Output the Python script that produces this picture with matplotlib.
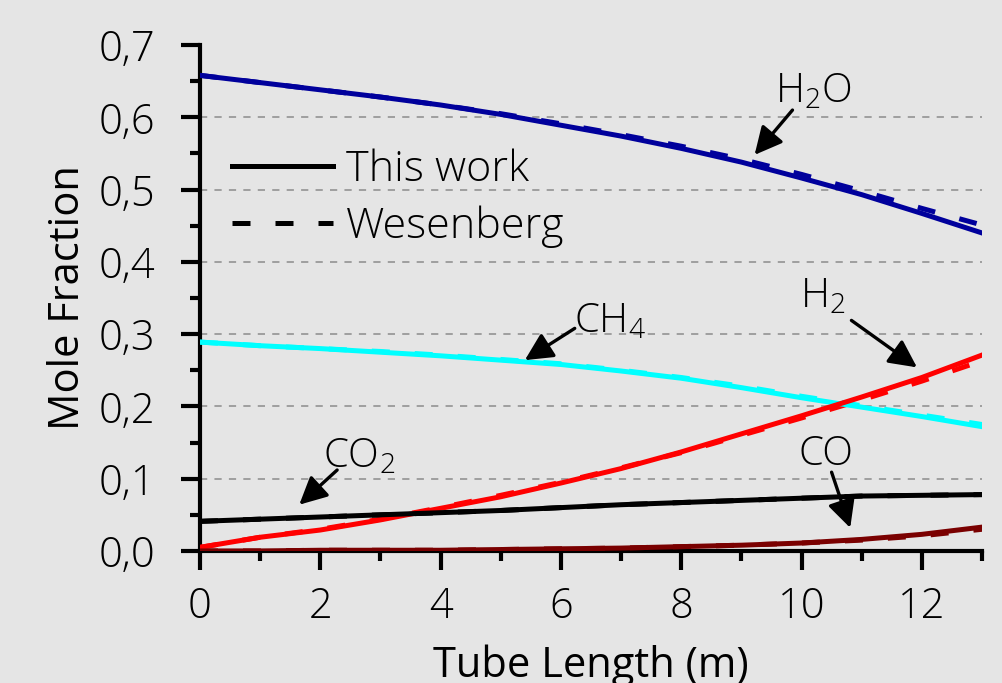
import matplotlib
matplotlib.use("Agg")
import matplotlib.pyplot as plt
from matplotlib.ticker import FuncFormatter, MultipleLocator
import numpy as np

plt.rcParams['font.family'] = ['Open Sans', 'DejaVu Sans']
plt.rcParams['font.weight'] = 'light'
plt.rcParams['mathtext.fontset'] = 'custom'
plt.rcParams['mathtext.rm'] = 'Open Sans:light'
plt.rcParams['mathtext.it'] = 'Open Sans:light'

# tube length (m)
length = [0, 1, 2, 3, 4, 5, 6, 7, 8, 9, 10, 11, 12, 13]

# this work (solid)
h2o = [0.658, 0.648, 0.638, 0.628, 0.617, 0.604, 0.589, 0.574, 0.557, 0.538, 0.516, 0.493, 0.467, 0.440]
ch4 = [0.289, 0.284, 0.280, 0.275, 0.270, 0.264, 0.258, 0.249, 0.239, 0.226, 0.212, 0.199, 0.186, 0.172]
h2 = [0.005, 0.019, 0.029, 0.043, 0.059, 0.075, 0.094, 0.114, 0.137, 0.162, 0.187, 0.213, 0.240, 0.271]
co2 = [0.041, 0.044, 0.047, 0.050, 0.053, 0.056, 0.060, 0.064, 0.067, 0.070, 0.073, 0.076, 0.077, 0.078]
co = [0.000, 0.000, 0.001, 0.001, 0.001, 0.002, 0.003, 0.004, 0.006, 0.008, 0.011, 0.016, 0.023, 0.033]

# Wesenberg (dashed)
h2o_w = [0.658, 0.648, 0.638, 0.628, 0.617, 0.605, 0.591, 0.576, 0.560, 0.542, 0.521, 0.498, 0.474, 0.451]
ch4_w = [0.289, 0.284, 0.280, 0.276, 0.271, 0.265, 0.259, 0.250, 0.240, 0.228, 0.214, 0.201, 0.188, 0.175]
h2_w = [0.005, 0.019, 0.030, 0.044, 0.060, 0.077, 0.095, 0.115, 0.136, 0.160, 0.184, 0.209, 0.235, 0.263]
co2_w = [0.041, 0.044, 0.047, 0.050, 0.053, 0.056, 0.060, 0.064, 0.067, 0.070, 0.073, 0.076, 0.077, 0.078]
co_w = [0.000, 0.000, 0.001, 0.001, 0.001, 0.002, 0.003, 0.004, 0.006, 0.008, 0.011, 0.015, 0.021, 0.030]

bg = '#e5e5e5'
dash = (3.6, 5.0)
fig = plt.figure(figsize=(10.02, 6.83), dpi=100, facecolor=bg)
ax = fig.add_axes([0.1996, 0.1933, 0.7804, 0.7408])
ax.set_facecolor(bg)

for yv in [0.1, 0.2, 0.3, 0.4, 0.5, 0.6]:
    ax.axhline(yv, color='#999999', lw=1.3, ls=(0, (4, 4)), zorder=1)

series = [(h2o, h2o_w, '#00009c'), (ch4, ch4_w, '#00ffff'), (h2, h2_w, '#ff0000'),
          (co2, co2_w, '#000000'), (co, co_w, '#7a0000')]
for sol, das, c in series:
    ax.plot(length, das, color=c, lw=3.6, dashes=dash, zorder=3)
    ax.plot(length, sol, color=c, lw=3.6, zorder=4)

ax.set_xlim(0, 13)
ax.set_ylim(0, 0.7)
ax.xaxis.set_major_locator(MultipleLocator(2))
ax.xaxis.set_minor_locator(MultipleLocator(1))
ax.yaxis.set_major_locator(MultipleLocator(0.1))
ax.yaxis.set_minor_locator(MultipleLocator(0.05))
ax.yaxis.set_major_formatter(FuncFormatter(lambda v, p: ('%.1f' % v).replace('.', ',')))

for s in ['top', 'right']:
    ax.spines[s].set_visible(False)
for s in ['left', 'bottom']:
    ax.spines[s].set_linewidth(3)
ax.tick_params(which='major', length=14, width=3, labelsize=30)
ax.tick_params(axis='x', which='major', pad=11)
ax.tick_params(axis='y', which='major', pad=18)
ax.tick_params(which='minor', length=7, width=3)

ax.set_xlabel('Tube Length (m)', fontsize=30, labelpad=12)
ax.set_ylabel('Mole Fraction', fontsize=30, labelpad=7)

# legend
ax.plot([], [], color='k', lw=3.6, label='This work')
ax.plot([], [], color='k', lw=3.6, dashes=dash, label='Wesenberg')
ax.legend(loc='center left', bbox_to_anchor=(0.041, 0.697), frameon=False, fontsize=31,
          handlelength=2.35, handletextpad=0.3, labelspacing=0.32,
          borderaxespad=0, borderpad=0)

labels = [('H$_2$O', 10.2, 0.635, 9.85, 0.61, 9.22, 0.548),
          ('CH$_4$', 6.81, 0.317, 6.23, 0.308, 5.40, 0.264),
          ('H$_2$', 10.36, 0.351, 10.83, 0.319, 11.92, 0.254),
          ('CO$_2$', 2.64, 0.130, 2.28, 0.112, 1.65, 0.064),
          ('CO', 10.41, 0.133, 10.50, 0.109, 10.81, 0.032)]
for txt, tx, ty, ax0, ay0, ax1, ay1 in labels:
    ax.text(tx, ty, txt, fontsize=29, ha='center', va='center', zorder=6)
    ax.annotate('', xy=(ax1, ay1), xytext=(ax0, ay0),
                arrowprops=dict(arrowstyle='-|>', color='k', lw=2.4, mutation_scale=42,
                                shrinkA=0, shrinkB=0), zorder=6)

fig.savefig('out.png', dpi=100, facecolor=bg)
